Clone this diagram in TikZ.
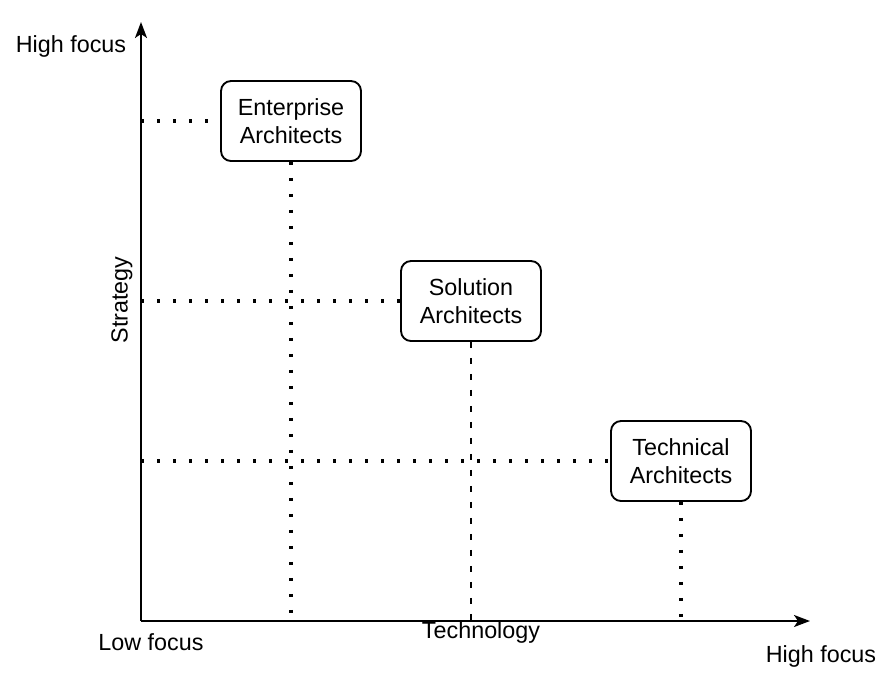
\documentclass[tikz,border=0pt]{standalone}
\usepackage{fontspec}
\setmainfont{Liberation Sans}
\usetikzlibrary{arrows.meta}
\begin{document}
\begin{tikzpicture}[x=0.75pt,y=-0.75pt,
  font=\fontsize{17.5pt}{20.5pt}\selectfont,
  rolebox/.style={draw,line width=1.4pt,rounded corners=7.5pt,minimum width=105pt,minimum height=60pt,align=center,inner sep=0pt},
  axisline/.style={line width=1.5pt,-{Stealth[length=12pt,width=9pt,inset=3pt]}},
  dotline/.style={line width=2.4pt,dash pattern=on 2.4pt off 9.6pt},
  dashline/.style={line width=1.3pt,dash pattern=on 4.5pt off 7.5pt}]
\useasboundingbox (0,0) rectangle (892,672);
\coordinate (O) at (141,621);
\coordinate (Ytop) at (141,22);
\coordinate (Xend) at (810,621);
\node[rolebox] (ent) at (291,121) {Enterprise\\Architects};
\node[rolebox] (sol) at (471,301) {Solution\\Architects};
\node[rolebox] (tec) at (681,461) {Technical\\Architects};
\draw[dotline] (ent.west -| O) -- (ent.west);
\draw[dotline] (sol.west -| O) -- (sol.west);
\draw[dotline] (tec.west -| O) -- (tec.west);
\draw[dotline] (ent.south) -- (ent.south |- O);
\draw[dashline] (sol.south) -- (sol.south |- O);
\draw[dotline] (tec.south) -- (tec.south |- O);
\draw[axisline] (O) -- (Ytop);
\draw[axisline] (O) -- (Xend);
\node (hy) at (71,46) {High focus};
\node[rotate=90] (strat) at (122,300) {Strategy};
\node (lo) at (151,642) {Low focus};
\node (tech) at (481,632) {Technology};
\node (hx) at (821,656) {High focus};
\end{tikzpicture}
\end{document}
